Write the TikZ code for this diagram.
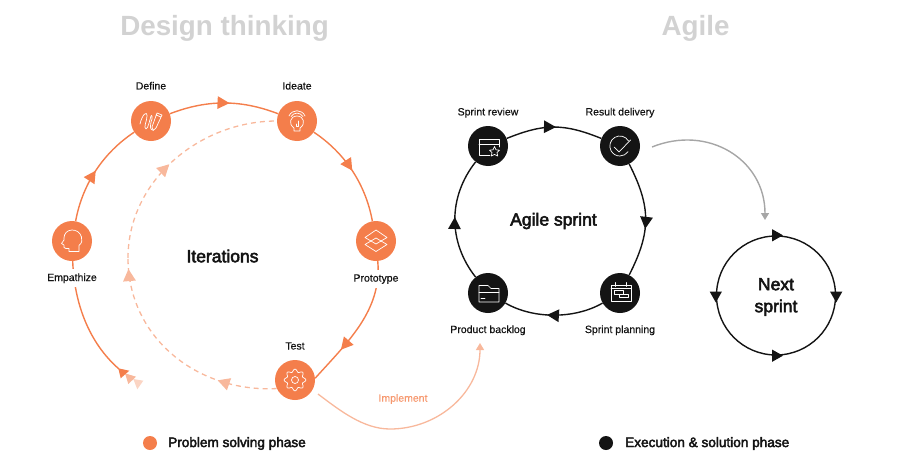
\documentclass[tikz,border=0pt]{standalone}
\usepackage{fontspec}
\setmainfont{Liberation Sans}
\newfontfamily\medfont[FakeBold=3]{Liberation Sans}
\newfontfamily\lblfont[FakeBold=0.5]{Liberation Sans}
\usepackage{tikz}
\usetikzlibrary{positioning}
\usetikzlibrary{arrows.meta}
\usetikzlibrary{decorations.markings}
\definecolor{dtorange}{HTML}{F47E4B}
\definecolor{dtlight}{HTML}{F8B89C}
\definecolor{dtpale}{HTML}{FBD5C4}
\definecolor{agblack}{HTML}{141414}
\definecolor{headgray}{HTML}{D2D2D2}
\tikzset{
  midtip/.style={postaction={decorate,decoration={markings,
      mark=at position #1 with {\arrow{Triangle[length=12pt,width=12.5pt]}}}}},
  phase/.style={circle,minimum size=40pt,inner sep=0pt},
  orangephase/.style={phase,fill=dtorange},
  blackphase/.style={phase,fill=agblack},
  orangeline/.style={draw=dtorange,fill=none,line width=1.4pt,text=dtorange},
  dashline/.style={draw=dtlight,line width=1.3pt,dash pattern=on 5pt off 4pt},
  blackline/.style={draw=agblack,line width=1.4pt},
  phasetext/.style={font=\lblfont\fontsize{10.5}{12}\selectfont,text=agblack,inner sep=1pt},
  bigtext/.style={font=\medfont\fontsize{17.5}{22}\selectfont,text=agblack,align=center},
  heading/.style={font=\bfseries\fontsize{27.8}{32}\selectfont,text=headgray},
  legendtext/.style={font=\medfont\fontsize{13.6}{16}\selectfont,text=agblack,anchor=west,inner sep=0pt},
  icon/.style={draw=white,line width=0.7pt,line join=round,line cap=round,fill=none},
  headicon/.pic={\draw[icon] (-3,10.5) -- (7,10.5) -- (7,4.5) .. controls (10,2) and (10.5,-1) .. (9.5,-4)
      .. controls (8,-9) and (4,-11) .. (0,-11) .. controls (-5,-11) and (-8,-7) .. (-8,-3)
      -- (-8,-1) -- (-10.5,2.5) -- (-8,4) -- (-8,6.5) .. controls (-7,8) and (-5,7.5) .. (-3,7.5) -- cycle;},
  penicon/.pic={\draw[icon] (-11,3) .. controls (-9,-6) and (-4,-11) .. (-4,-5) .. controls (-4,0) and (-8,7) .. (-5,8)
      .. controls (-3,8) and (-1,-2) .. (0,-5) .. controls (1,-7) and (2,-3) .. (0,1) .. controls (-1,4) and (-1,8) .. (1,9);
    \draw[icon] (6,-8) -- (11,-6) -- (5,7) -- (2,9.5) -- (1,6) -- cycle (5,-6) -- (10,-4);},
  bulbicon/.pic={\draw[icon] (-8,-5) .. controls (-5,-12) and (5,-12) .. (8,-5);
    \draw[icon] (-6,-4.5) .. controls (-3,-9) and (3,-9) .. (6,-4.5);
    \draw[icon] (-3,10) -- (3,10) -- (3,7) .. controls (9,3) and (7,-5) .. (0,-5)
      .. controls (-7,-5) and (-9,3) .. (-3,7) -- cycle;
    \draw[icon] (1,0) -- (1,5) -- (-1,5) -- (-1,3);},
  layericon/.pic={\draw[icon] (0,-11) -- (11,-3.5) -- (0,3) -- (-11,-3.5) -- cycle;
    \draw[icon] (-11,3.5) -- (0,-3) -- (11,3.5) -- (0,10.5) -- cycle;},
  gearicon/.pic={\draw[icon] plot[domain=0:360,samples=97,smooth,variable=\x]
      ({(9.5+1.4*cos(8*\x))*cos(\x)},{(9.5+1.4*cos(8*\x))*sin(\x)});
    \draw[icon] (0,0) circle (3.5pt);},
  windowicon/.pic={\draw[icon] (2,9.7) -- (-9,9.7) -- (-9,-7) -- (11,-7) -- (11,1) (-9,-2) -- (11,-2);
    \draw[icon] (6.5,0.5) -- (8,3.8) -- (11.5,4.2) -- (9,6.6) -- (9.7,10) -- (6.5,8.4) -- (3.3,10) -- (4,6.6) -- (1.5,4.2) -- (5,3.8) -- cycle;},
  checkicon/.pic={\draw[icon] (8.5,-5) arc[start angle=30,end angle=325,radius=10pt];
    \draw[icon] (-6,1) -- (-1,6) -- (10.5,-6);},
  foldericon/.pic={\draw[icon] (-9,9) -- (-9,-7.5) -- (0,-7.5) -- (3,-4.5) -- (11,-4.5) -- (11,9) -- cycle;
    \draw[icon] (-9,-1) -- (11,-1) (-7,5.5) -- (-3,5.5);},
  calendaricon/.pic={\draw[icon] (-9,-8) rectangle (11,8.5) (-9,-4.5) -- (11,-4.5)
      (-5,-10.5) -- (-5,-6.5) (6,-10.5) -- (6,-6.5);
    \draw[icon] (-6,-2.5) rectangle (3,1) (-1,1) rectangle (8,4.8);},
}

\begin{document}
\begin{tikzpicture}[x=1pt,y=-1pt]
    \useasboundingbox (0,0) rectangle (920,471);

    \node[heading] (dthead) at (224.5,28) {Design thinking};
    \node[heading] (aghead) at (695.5,28) {Agile};

% design thinking circle
    \node[orangephase] (empathize) at (72,241) {};
    \node[orangephase] (define) at (151,121) {};
    \node[orangephase] (ideate) at (297,121) {};
    \node[orangephase] (prototype) at (376,241) {};
    \node[orangephase] (test) at (295,380) {};
    \coordinate (iterend) at (119,369);
    \coordinate (dashmid) at (128,258);

    \draw[orangeline,midtip=0.5] (empathize) to[bend left=23,looseness=0.9] (define);
    \draw[orangeline,midtip=0.55] (define) to[bend left=21,looseness=0.95] (ideate);
    \draw[orangeline,midtip=0.5] (ideate) to[bend left=23,looseness=0.9] (prototype);
    \draw[orangeline,midtip=0.72] (prototype) to[out=-85,in=48,looseness=0.95] (test.5);
    \draw[orangeline] (empathize) to[out=-88,in=139,looseness=0.89] (iterend);
    \draw[dashline,midtip=0.27,midtip=0.95] (test.205) to[out=183,in=-90,looseness=1.03] (dashmid);
    \draw[dashline,midtip=0.47] (dashmid) to[out=90,in=180,looseness=0.98] (ideate);

    \fill[dtpale] (133.3,379) -- (143.3,380.7) -- (137.3,389.3) -- cycle;
    \fill[dtlight] (125,373.3) -- (136,376.7) -- (128.3,384) -- cycle;
    \fill[dtorange] (118.3,368.3) -- (129.3,370.7) -- (120.7,378.3) -- cycle;

    \node[phasetext,above=10pt of define] (definetext) {Define};
    \node[phasetext,above=10pt of ideate] (ideatetext) {Ideate};
    \node[phasetext,above=9pt of test] (testtext) {Test};
    \node[phasetext,fill=white,below=8pt of empathize,inner ysep=4pt] (empathizetext) {Empathize};
    \node[phasetext,fill=white,below=9pt of prototype,inner ysep=4pt] (prototypetext) {Prototype};
    \node[bigtext] (iterations) at (222.5,256) {Iterations};

    \pic at (empathize) {headicon};
    \pic at (define) {penicon};
    \pic at (ideate) {bulbicon};
    \pic at (prototype) {layericon};
    \pic at (test) {gearicon};

% agile circle
    \node[blackphase] (review) at (488,146) {};
    \node[blackphase] (delivery) at (620,146) {};
    \node[blackphase] (planning) at (620,293) {};
    \node[blackphase] (backlog) at (488,293) {};

    \draw[blackline,midtip=0.52] (review) to[bend left=22,looseness=1.1] (delivery);
    \draw[blackline,midtip=0.58] (delivery) to[bend left=27,looseness=1.12] (planning);
    \draw[blackline,midtip=0.57] (planning) to[bend left=30,looseness=0.85] (backlog);
    \draw[blackline,midtip=0.52] (backlog) to[bend left=38] (review);

    \node[phasetext,above=7pt of review] (reviewtext) {Sprint review};
    \node[phasetext,above=7pt of delivery] (deliverytext) {Result delivery};
    \node[phasetext,below=11pt of planning] (planningtext) {Sprint planning};
    \node[phasetext,below=11pt of backlog] (backlogtext) {Product backlog};
    \node[bigtext] (agiletext) at (553.5,221) {Agile sprint};

    \pic at (review) {windowicon};
    \pic at (delivery) {checkicon};
    \pic at (planning) {calendaricon};
    \pic at (backlog) {foldericon};

% next sprint circle
    \node[circle,draw=agblack,line width=1.4pt,minimum size=119pt] (nextsprint) at (776,295.5) {};
    \node[bigtext] (nextlabel) at (776,297) {Next\\sprint};
    \draw[blackline,-{Triangle[length=11pt,width=12pt]}] ([xshift=-4pt]nextsprint.north) -- ([xshift=7pt]nextsprint.north);
    \draw[blackline,-{Triangle[length=11pt,width=12pt]}] ([xshift=-4pt]nextsprint.south) -- ([xshift=7pt]nextsprint.south);
    \draw[blackline,-{Triangle[length=11pt,width=12pt]}] ([yshift=4pt]nextsprint.east) -- ([yshift=-7pt]nextsprint.east);
    \draw[blackline,-{Triangle[length=11pt,width=12pt]}] ([yshift=4pt]nextsprint.west) -- ([yshift=-7pt]nextsprint.west);

% links between the phases
    \coordinate (implstart) at (318,394);
    \coordinate (implmid) at (390,429);
    \coordinate (implend) at (480,343);
    \coordinate (nextstart) at (652,147);
    \coordinate (nextend) at (765,220);
    \draw[draw=dtlight,line width=1.3pt,-{Triangle[length=7pt,width=8pt]}] (implstart) to[out=-37,in=180,looseness=0.86] (implmid) to[out=0,in=-90] (implend);
    \node[phasetext,text=dtorange!80!white] (impltext) at (403,399) {Implement};
    \draw[draw=black!35,line width=1.4pt,-{Triangle[length=7pt,width=8pt]}] (nextstart) to[out=22,in=90,looseness=1.15] (nextend);

% legend
    \node[circle,fill=dtorange,minimum size=14pt,inner sep=0pt] (orangedot) at (150,443) {};
    \node[legendtext] (orangetext) at (168,443.5) {Problem solving phase};
    \node[circle,fill=agblack,minimum size=14pt,inner sep=0pt] (blackdot) at (606,443) {};
    \node[legendtext] (blacktext) at (625,443.5) {Execution \& solution phase};
\end{tikzpicture}
\end{document}
